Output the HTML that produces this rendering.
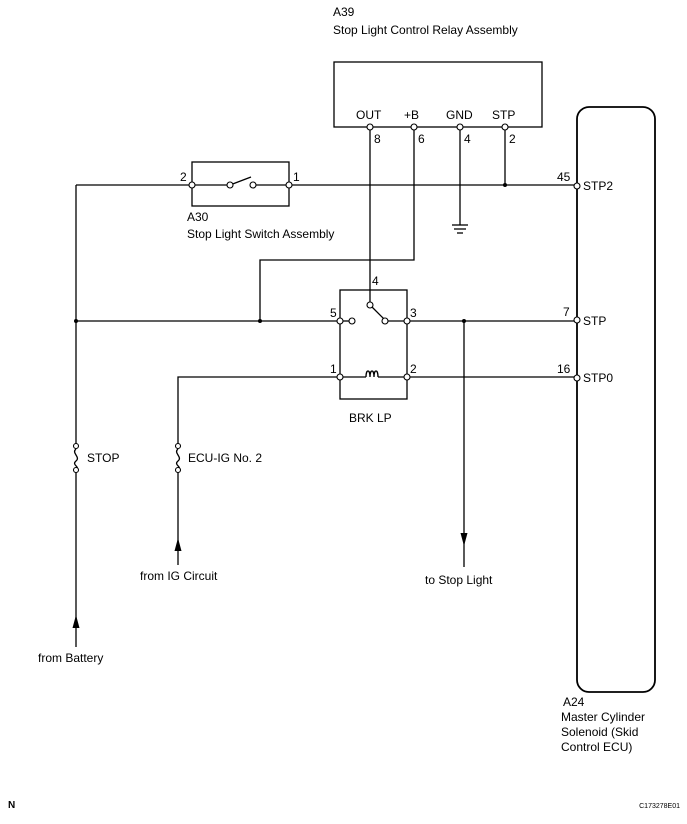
<!DOCTYPE html>
<html><head><style>
body{margin:0;background:#fff;}
svg{display:block;font-family:"Liberation Sans",Arial,sans-serif;}
text{font-size:12px;fill:#000;}
</style></head><body>
<svg width="687" height="824" viewBox="0 0 687 824" xmlns="http://www.w3.org/2000/svg">
<g stroke="#000" stroke-width="1.3" fill="none">
<!-- relay box -->
<rect x="334" y="62" width="208" height="65"/>
<!-- ECU -->
<rect x="577" y="107" width="78" height="585" rx="12" stroke-width="1.8"/>
<!-- A30 switch box -->
<rect x="192" y="162" width="97" height="44"/>
<!-- BRK LP box -->
<rect x="340" y="290" width="67" height="109"/>
<!-- top wire -->
<line x1="76" y1="185" x2="192" y2="185"/>
<line x1="192" y1="185" x2="230" y2="185"/>
<line x1="230" y1="185" x2="251" y2="177"/>
<line x1="253" y1="185" x2="289" y2="185"/>
<line x1="289" y1="185" x2="577" y2="185"/>
<line x1="505" y1="127" x2="505" y2="185"/>
<!-- ground -->
<line x1="460" y1="127" x2="460" y2="225"/>
<line x1="452" y1="225" x2="468" y2="225"/>
<line x1="454" y1="229" x2="466" y2="229"/>
<line x1="457" y1="233" x2="463" y2="233"/>
<!-- OUT -->
<line x1="370" y1="127" x2="370" y2="305"/>
<!-- +B -->
<polyline points="414,127 414,260 260,260 260,321"/>
<!-- STP line -->
<line x1="76" y1="321" x2="340" y2="321"/>
<line x1="340" y1="321" x2="352" y2="321"/>
<line x1="370" y1="305" x2="385" y2="320"/>
<line x1="385" y1="321" x2="407" y2="321"/>
<line x1="407" y1="321" x2="577" y2="321"/>
<!-- STP0 line -->
<polyline points="178,446 178,377 340,377 366,377"/>
<path d="M366 377 c0 -8 4 -8 4 0 c0 -8 4 -8 4 0 c0 -8 4 -8 4 0"/>
<line x1="378" y1="377" x2="577" y2="377"/>
<!-- left vertical -->
<line x1="76" y1="185" x2="76" y2="446"/>
<line x1="76" y1="470" x2="76" y2="647"/>
<path d="M76 449 c-5 4 5 8 0 12 c-5 4 5 6 0 9"/>
<line x1="178" y1="470" x2="178" y2="565"/>
<path d="M178 449 c-5 4 5 8 0 12 c-5 4 5 6 0 9"/>
<!-- stop light -->
<line x1="464" y1="321" x2="464" y2="567"/>
</g>
<!-- arrows -->
<g fill="#000">
<polygon points="76,615 72.5,628 79.5,628"/>
<polygon points="178,538 174.5,551 181.5,551"/>
<polygon points="464,546 460.5,533 467.5,533"/>
<circle cx="505" cy="185" r="2"/>
<circle cx="76" cy="321" r="2"/>
<circle cx="260" cy="321" r="2"/>
<circle cx="464" cy="321" r="2"/>
</g>
<!-- terminals -->
<g fill="#fff" stroke="#000" stroke-width="1.1">
<circle cx="370" cy="127" r="3"/><circle cx="414" cy="127" r="3"/>
<circle cx="460" cy="127" r="3"/><circle cx="505" cy="127" r="3"/>
<circle cx="192" cy="185" r="3"/><circle cx="289" cy="185" r="3"/>
<circle cx="230" cy="185" r="3"/><circle cx="253" cy="185" r="3"/>
<circle cx="577" cy="186" r="3"/><circle cx="577" cy="320" r="3"/><circle cx="577" cy="378" r="3"/>
<circle cx="340" cy="321" r="3"/><circle cx="407" cy="321" r="3"/>
<circle cx="352" cy="321" r="3"/><circle cx="385" cy="321" r="3"/>
<circle cx="370" cy="305" r="3"/>
<circle cx="340" cy="377" r="3"/><circle cx="407" cy="377" r="3"/>
<circle cx="76" cy="446" r="2.5"/><circle cx="76" cy="470" r="2.5"/>
<circle cx="178" cy="446" r="2.5"/><circle cx="178" cy="470" r="2.5"/>
</g>
<text x="333" y="16">A39</text>
<text x="333" y="34">Stop Light Control Relay Assembly</text>
<text x="356" y="119">OUT</text><text x="404" y="119">+B</text>
<text x="446" y="119">GND</text><text x="492" y="119">STP</text>
<text x="374" y="143">8</text><text x="418" y="143">6</text>
<text x="464" y="143">4</text><text x="509" y="143">2</text>
<text x="180" y="181">2</text><text x="293" y="181">1</text>
<text x="187" y="221">A30</text>
<text x="187" y="238">Stop Light Switch Assembly</text>
<text x="557" y="181">45</text><text x="583" y="190">STP2</text>
<text x="563" y="316">7</text><text x="583" y="325">STP</text>
<text x="557" y="373">16</text><text x="583" y="382">STP0</text>
<text x="372" y="285">4</text>
<text x="330" y="317">5</text><text x="410" y="317">3</text>
<text x="330" y="373">1</text><text x="410" y="373">2</text>
<text x="349" y="422">BRK LP</text>
<text x="87" y="462">STOP</text>
<text x="188" y="462">ECU-IG No. 2</text>
<text x="140" y="580">from IG Circuit</text>
<text x="425" y="584">to Stop Light</text>
<text x="38" y="662">from Battery</text>
<text x="563" y="706">A24</text>
<text x="561" y="721">Master Cylinder</text>
<text x="561" y="736">Solenoid (Skid</text>
<text x="561" y="751">Control ECU)</text>
<text x="8" y="808" style="font-size:10px;font-weight:bold">N</text>
<text x="680" y="808" text-anchor="end" style="font-size:7px">C173278E01</text>
</svg>
</body></html>
